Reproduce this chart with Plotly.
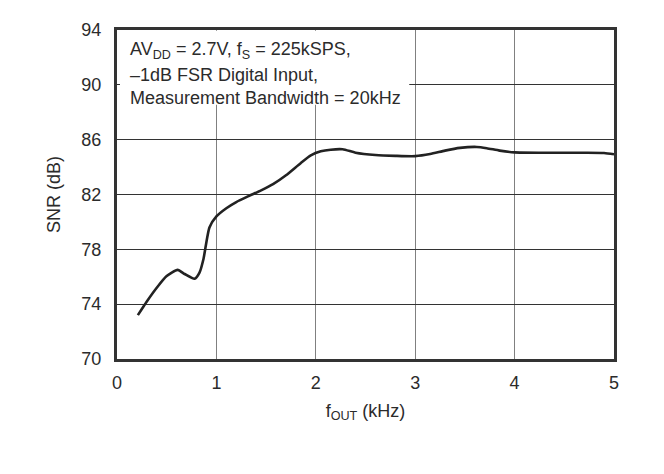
import plotly.graph_objects as go

# Data
f_out_khz = [0.21, 0.30, 0.40, 0.50, 0.61, 0.68, 0.78, 0.83, 0.87, 0.93, 1.00, 1.10, 1.20, 1.33,
             1.45, 1.57, 1.70, 1.85, 1.95, 2.05, 2.15, 2.27, 2.40, 2.60, 2.80, 3.00, 3.15, 3.30,
             3.45, 3.62, 3.72, 3.85, 4.00, 4.30, 4.70, 4.90, 5.00]
snr_db = [73.2, 74.2, 75.2, 76.05, 76.5, 76.2, 75.85, 76.3, 77.3, 79.6, 80.4, 81.0, 81.45, 81.9,
          82.3, 82.75, 83.4, 84.3, 84.85, 85.15, 85.27, 85.3, 85.05, 84.88, 84.82, 84.8, 84.95, 85.2,
          85.4, 85.47, 85.38, 85.2, 85.07, 85.05, 85.05, 85.03, 84.93]

x_ticks = [0, 1, 2, 3, 4, 5]
y_ticks = [70, 74, 78, 82, 86, 90, 94]
note_lines = [
    "AV<sub>DD</sub> = 2.7V, f<sub>S</sub> = 225kSPS,",
    "\u20131dB FSR Digital Input,",
    "Measurement Bandwidth = 20kHz",
]

FONT = "Liberation Sans, Arial, Helvetica, sans-serif"
TXT = "#2b2b2b"

fig = go.Figure()
fig.add_trace(go.Scatter(
    x=f_out_khz, y=snr_db, mode="lines",
    line=dict(color="#222222", width=2.6, shape="spline", smoothing=0.6),
    showlegend=False, hoverinfo="skip",
))

# the page body adds an 8px offset, so the figure is 8px smaller
W, H = 656, 466
L, R, T, B = 109, 50, 15, 115
PW, PH = W - L - R, H - T - B

fig.update_layout(
    width=W, height=H,
    margin=dict(l=L, r=R, t=T, b=B, pad=0),
    paper_bgcolor="white", plot_bgcolor="white",
    font=dict(family=FONT, size=18, color=TXT),
    showlegend=False,
)
fig.update_xaxes(
    range=[0, 5], tickvals=x_ticks, ticktext=[str(v) for v in x_ticks],
    showgrid=True, gridcolor="#808080", gridwidth=1.3,
    showline=True, linecolor="#333333", linewidth=3, mirror=True,
    ticks="", ticklabelstandoff=5, zeroline=False,
    tickfont=dict(size=18, color=TXT, family=FONT),
    title=dict(text="f<sub>OUT</sub> (kHz)", font=dict(size=18, color=TXT, family=FONT), standoff=13),
)
fig.update_yaxes(
    range=[70, 94], tickvals=y_ticks, ticktext=[str(v) for v in y_ticks],
    showgrid=True, gridcolor="#333333", gridwidth=1,
    showline=True, linecolor="#333333", linewidth=3, mirror=True,
    ticks="", ticklabelstandoff=9, zeroline=False,
    tickfont=dict(size=18, color=TXT, family=FONT),
    title=dict(text="SNR (dB)", font=dict(size=18, color=TXT, family=FONT), standoff=17),
)

# white box behind the note (hides gridlines)
fig.add_shape(type="rect", xref="x", yref="y", x0=0.03, x1=2.94, y0=88.55, y1=93.95,
              fillcolor="white", line=dict(width=0), layer="between")

shifts = [-20, -45, -68]
for line, ys in zip(note_lines, shifts):
    fig.add_annotation(xref="paper", yref="paper", x=0, y=1, xanchor="left", yanchor="middle",
                       xshift=11, yshift=ys, text=line, showarrow=False,
                       font=dict(size=18, color=TXT, family=FONT), align="left")

# thin right border of the picture
def px(xp):
    return (xp - L) / PW

def py(yp):
    return (H - B - yp) / PH

border = dict(color="#555555", width=1.2)
fig.add_shape(type="line", xref="paper", yref="paper", x0=px(653), x1=px(653), y0=py(0), y1=py(H),
              line=border)

fig.write_html("out.html")
